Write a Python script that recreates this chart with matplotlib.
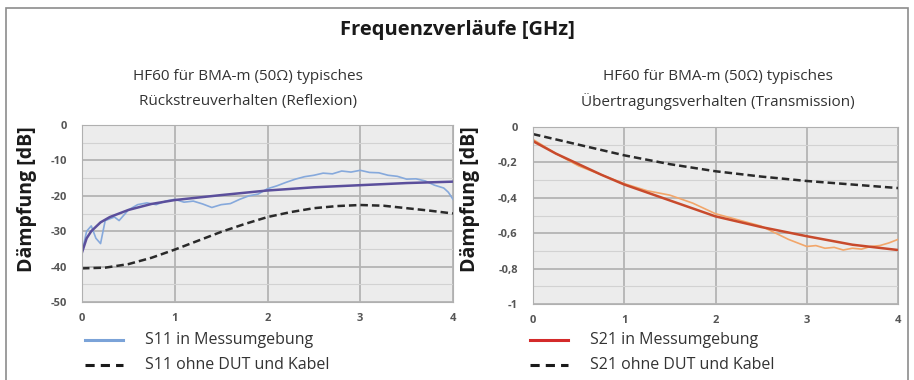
import matplotlib.pyplot as plt
from matplotlib.lines import Line2D
from matplotlib.patches import Rectangle
from matplotlib.ticker import MultipleLocator, FuncFormatter

plt.rcParams['font.family'] = ['Open Sans', 'DejaVu Sans']

# S11 (reflexion), frequency in GHz, attenuation in dB
s11_meas_x = [0, 0.05, 0.1, 0.15, 0.2, 0.25, 0.3, 0.35, 0.4, 0.5, 0.6, 0.7, 0.8, 0.9,
              1.0, 1.1, 1.2, 1.3, 1.4, 1.5, 1.6, 1.7, 1.8, 1.9, 2.0, 2.1, 2.2, 2.3,
              2.4, 2.5, 2.6, 2.7, 2.8, 2.9, 3.0, 3.1, 3.2, 3.3, 3.4, 3.5, 3.6, 3.7,
              3.8, 3.9, 3.95, 4.0]
s11_meas_y = [-36, -30, -28.5, -32, -33.5, -27, -26.5, -26, -27, -24, -22.5, -22, -22.5,
              -21.5, -21, -21.8, -21.5, -22.3, -23.3, -22.5, -22.2, -21, -20, -19.5,
              -18, -17.2, -16.2, -15.3, -14.6, -14.2, -13.6, -13.8, -13, -13.3, -12.8,
              -13.4, -13.5, -14.2, -14.5, -15.3, -15.2, -15.8, -17, -17.8, -19, -21]
s11_fit_x = [0, 0.05, 0.1, 0.2, 0.3, 0.5, 0.75, 1, 1.5, 2, 2.5, 3, 3.5, 4]
s11_fit_y = [-36, -32, -30, -27.5, -26, -24, -22.3, -21.2, -19.8, -18.5, -17.6, -17,
             -16.4, -16]
s11_ref_x = [0, 0.25, 0.5, 0.75, 1, 1.25, 1.5, 1.75, 2, 2.25, 2.5, 2.75, 3, 3.25, 3.5,
             3.75, 4]
s11_ref_y = [-40.5, -40.3, -39.3, -37.5, -35.2, -32.7, -30.2, -28, -26, -24.6, -23.5,
             -22.9, -22.6, -22.8, -23.5, -24.2, -25]

# S21 (transmission)
s21_meas_x = [0, 0.25, 0.5, 0.75, 1, 1.25, 1.5, 1.75, 2, 2.25, 2.5, 2.6, 2.7, 2.8, 2.9,
              3.0, 3.1, 3.2, 3.3, 3.4, 3.5, 3.6, 3.7, 3.8, 3.9, 4.0]
s21_meas_y = [-0.07, -0.15, -0.22, -0.27, -0.32, -0.36, -0.385, -0.43, -0.49, -0.525,
              -0.56, -0.585, -0.61, -0.635, -0.655, -0.675, -0.67, -0.685, -0.68,
              -0.695, -0.685, -0.69, -0.675, -0.67, -0.655, -0.635]
s21_fit_x = [0, 0.25, 0.5, 0.75, 1, 1.5, 2, 2.5, 3, 3.5, 4]
s21_fit_y = [-0.08, -0.15, -0.21, -0.27, -0.325, -0.415, -0.505, -0.565, -0.617, -0.665,
             -0.695]
s21_ref_x = [0, 0.5, 1, 1.5, 2, 2.5, 3, 3.5, 4]
s21_ref_y = [-0.04, -0.10, -0.16, -0.21, -0.25, -0.28, -0.305, -0.325, -0.345]

x_ticks = [0, 1, 2, 3, 4]

W, H = 914, 380
fig = plt.figure(figsize=(W / 100, H / 100), dpi=100)
fig.patch.set_facecolor('white')


def fx(px):
    return px / W


def fy(py):
    return 1 - py / H


# outer frame
fig.add_artist(Rectangle((fx(6), fy(390)), fx(902), 382 / H, transform=fig.transFigure,
                         fill=False, edgecolor='#8c8c8c', lw=1.2))

fig.text(0.5, fy(30), 'Frequenzverläufe [GHz]', ha='center', va='center',
         fontsize=14.5, fontweight='bold', color='#1a1a1a')


def style_axes(ax, ylim, major, minor, fmt):
    ax.set_facecolor('#ececec')
    ax.set_xlim(0, 4)
    ax.set_ylim(*ylim)
    ax.set_xticks(x_ticks)
    ax.yaxis.set_major_locator(MultipleLocator(major))
    ax.yaxis.set_minor_locator(MultipleLocator(minor))
    ax.yaxis.set_major_formatter(FuncFormatter(fmt))
    ax.grid(True, which='major', color='#b4b4b4', lw=1.3)
    ax.grid(True, which='minor', axis='y', color='#d2d2d2', lw=0.8)
    ax.set_axisbelow(True)
    ax.tick_params(axis='y', which='both', length=0, labelsize=8,
                   labelcolor='#555555', pad=11)
    ax.tick_params(axis='x', which='both', length=0, labelsize=8,
                   labelcolor='#555555', pad=8)
    for lbl in ax.get_xticklabels() + ax.get_yticklabels():
        lbl.set_fontweight('bold')
    for s in ax.spines.values():
        s.set_color('#b0b0b0')


ax1 = fig.add_axes([fx(82), fy(302), fx(371), 177 / H])
ax1.plot(s11_meas_x, s11_meas_y, color='#86a9dc', lw=1.2)
ax1.plot(s11_fit_x, s11_fit_y, color='#5b4f9c', lw=1.8)
ax1.plot(s11_ref_x, s11_ref_y, color='#2a2a2a', lw=1.8, ls=(0, (3, 1.6)))
style_axes(ax1, (-50, 0), 10, 5, lambda v, p: '%d' % v)

ax2 = fig.add_axes([fx(533), fy(304), fx(365), 177 / H])
ax2.plot(s21_meas_x, s21_meas_y, color='#f2a66a', lw=1.2)
ax2.plot(s21_fit_x, s21_fit_y, color='#c84a2c', lw=1.8)
ax2.plot(s21_ref_x, s21_ref_y, color='#2a2a2a', lw=1.8, ls=(0, (3, 1.6)))
style_axes(ax2, (-1, 0), 0.2, 0.1,
           lambda v, p: ('%g' % round(v, 1)).replace('.', ','))

# subtitles and y labels
for cx, line2 in [(248, 'Rückstreuverhalten (Reflexion)'),
                  (718, 'Übertragungsverhalten (Transmission)')]:
    fig.text(fx(cx), fy(76), 'HF60 für BMA-m (50Ω) typisches', ha='center',
             va='center', fontsize=11, color='#333333')
    fig.text(fx(cx), fy(102), line2, ha='center', va='center', fontsize=11,
             color='#333333')

for cx in [27, 470]:
    fig.text(fx(cx), fy(199), 'Dämpfung [dB]', rotation=90, ha='center', va='center',
             fontsize=14, fontweight='bold', color='#1a1a1a')

# legends
legend_rows = [
    (85, 145, 340, '#7ba3d8', '-', 'S11 in Messumgebung'),
    (85, 145, 365, '#1a1a1a', (0, (3, 2)), 'S11 ohne DUT und Kabel'),
    (530, 590, 340, '#d42a2a', '-', 'S21 in Messumgebung'),
    (530, 590, 365, '#1a1a1a', (0, (3, 2)), 'S21 ohne DUT und Kabel'),
]
for x0, tx, y, c, ls, label in legend_rows:
    fig.add_artist(Line2D([fx(x0), fx(x0 + 38)], [fy(y), fy(y)], color=c, lw=2.2,
                          ls=ls, transform=fig.transFigure))
    fig.text(fx(tx), fy(y), label, ha='left', va='center', fontsize=11.5,
             color='#333333')

fig.savefig('out.png', dpi=100)
